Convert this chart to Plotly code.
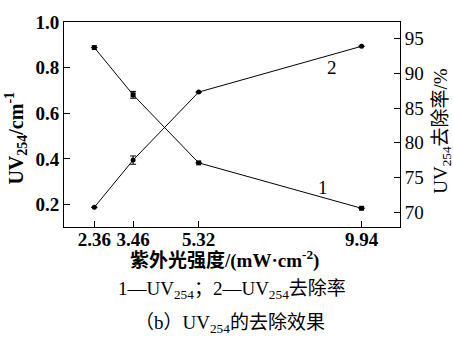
import plotly.graph_objects as go

intensity = [2.36, 3.46, 5.32, 9.94]
x_ticklabels = ["2.36", "3.46", "5.32", "9.94"]
uv254 = [0.888, 0.681, 0.383, 0.184]
uv254_err = [0.0, 0.015, 0.0, 0.0]
removal = [70.7, 77.5, 87.3, 93.9]
removal_err = [0.0, 0.6, 0.0, 0.0]

FONT = "Liberation Serif, Times New Roman, Noto Sans CJK SC, serif"

fig = go.Figure()
fig.add_trace(go.Scatter(
    x=intensity, y=uv254, mode="lines+markers",
    line=dict(color="black", width=1),
    marker=dict(symbol="square", size=5, color="black"),
    error_y=dict(type="data", array=uv254_err, visible=True, color="black", thickness=1, width=3),
    showlegend=False, yaxis="y"))
fig.add_trace(go.Scatter(
    x=intensity, y=removal, mode="lines+markers",
    line=dict(color="black", width=1),
    marker=dict(symbol="circle", size=5, color="black"),
    error_y=dict(type="data", array=removal_err, visible=True, color="black", thickness=1, width=3),
    showlegend=False, yaxis="y2"))

fig.update_layout(
    width=453, height=343,
    margin=dict(l=64, r=53, t=16, b=116),
    paper_bgcolor="white", plot_bgcolor="white",
    font=dict(family=FONT, color="black", size=16),
    xaxis=dict(range=[1.5, 11.03], tickvals=intensity, ticktext=x_ticklabels,
               ticks="inside", ticklen=6, tickcolor="black", showline=True, linecolor="black",
               linewidth=1, mirror=True, showgrid=False, zeroline=False,
               ticklabelstandoff=-5,
               tickfont=dict(family=FONT, size=19, weight="bold")),
    yaxis=dict(range=[0.102, 1.0], tickvals=[0.2, 0.4, 0.6, 0.8, 1.0],
               ticktext=["0.2", "0.4", "0.6", "0.8", "1.0"],
               ticks="inside", ticklen=6, tickcolor="black", showline=True, linecolor="black",
               linewidth=1, showgrid=False, zeroline=False,
               tickfont=dict(family=FONT, size=19, weight="bold")),
    yaxis2=dict(range=[67.86, 97.4], overlaying="y", side="right",
                tickvals=[70, 75, 80, 85, 90, 95],
                ticks="inside", ticklen=6, tickcolor="black", showline=True, linecolor="black",
                linewidth=1, showgrid=False, zeroline=False,
                tickfont=dict(family=FONT, size=19)),
)

annos = [
    dict(x=16, y=136, text="<b>UV<sub>254</sub>/cm<sup>-1</sup></b>", textangle=-90, size=20),
    dict(x=442, y=128, text="UV<sub>254</sub>去除率/%", textangle=-90, size=19),
    dict(x=224, y=260, text="<b>紫外光强度/(mW·cm<sup>-2</sup>)</b>", textangle=0, size=19),
    dict(x=232, y=292, text="1—UV<sub>254</sub>；2—UV<sub>254</sub>去除率", textangle=0, size=19),
    dict(x=230, y=327, text="（b）UV<sub>254</sub>的去除效果", textangle=0, size=19),
    dict(x=323, y=186, text="1", textangle=0, size=19),
    dict(x=332, y=63, text="2", textangle=0, size=19),
]
# convert pixel positions to paper coords of the plot area (x 64..400, y 16..227)
for a in annos:
    fig.add_annotation(
        x=(a["x"] - 64) / (400 - 64), y=(227 - a["y"]) / (227 - 16),
        xref="paper", yref="paper",
        text=a["text"], textangle=a["textangle"], showarrow=False,
        xanchor="center", yanchor="middle",
        font=dict(family=FONT, size=a["size"], color="black"))

fig.write_html("out.html", config={"displayModeBar": False},
               post_script="document.body.style.margin='0';")
